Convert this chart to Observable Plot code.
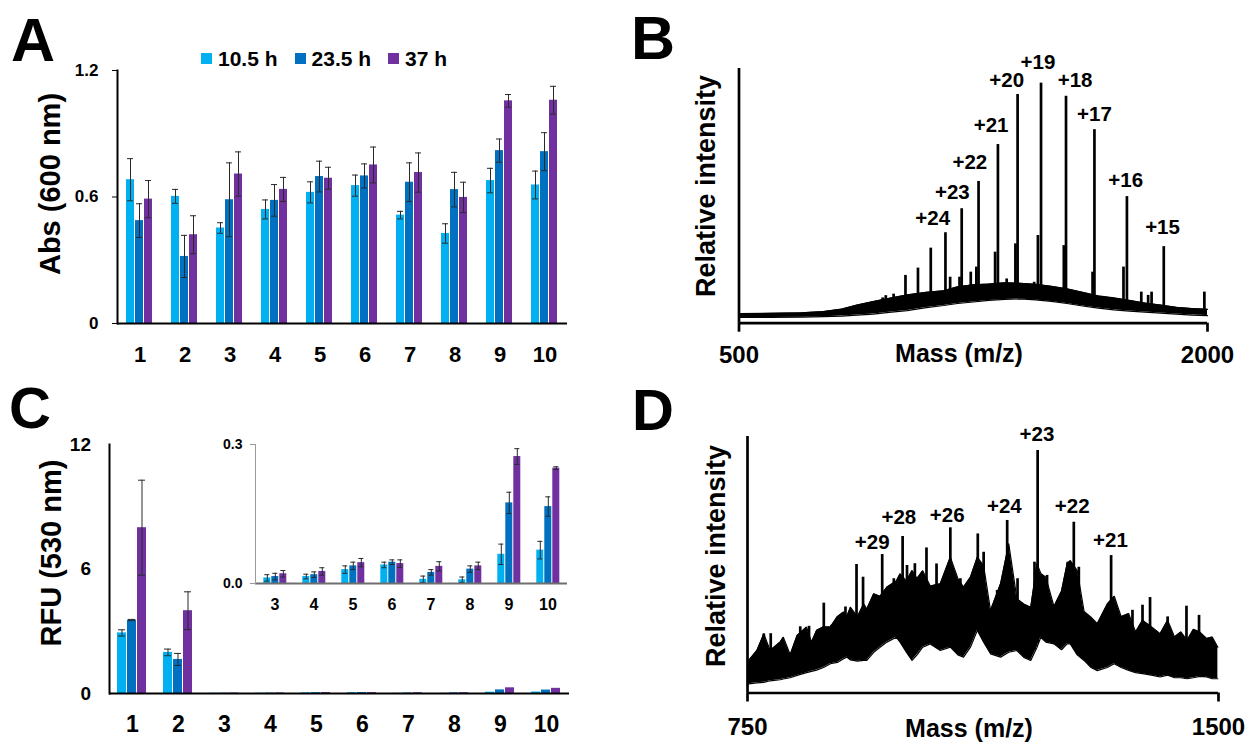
<!DOCTYPE html>
<html><head><meta charset="utf-8">
<script src="https://cdn.jsdelivr.net/npm/d3@7"></script>
<script src="https://cdn.jsdelivr.net/npm/@observablehq/plot@0.6"></script>
<style>
body{margin:0;background:#fff;width:1252px;height:746px;overflow:hidden;position:relative;font-family:"Liberation Sans",Arial,sans-serif;font-weight:bold;color:#000}
.box{position:absolute}
.letter{position:absolute;line-height:1;font-weight:bold;white-space:nowrap}
.rot{position:absolute;transform:translate(-50%,-50%) rotate(-90deg);white-space:nowrap;line-height:1}
.ctr{position:absolute;transform:translate(-50%,0);white-space:nowrap;line-height:1}
</style></head><body>
<script>
// ---------- data ----------
const series = ["10.5 h", "23.5 h", "37 h"];
const seriesColors = ["#00B0F0", "#0070C0", "#7030A0"];

// Panel A: Abs (600 nm)
const catsA = ["1","2","3","4","5","6","7","8","9","10"];
const absLight  = [0.682, 0.603, 0.453, 0.541, 0.622, 0.654, 0.514, 0.427, 0.678, 0.657];
const absDark   = [0.488, 0.318, 0.587, 0.584, 0.697, 0.700, 0.670, 0.635, 0.820, 0.815];
const absPurple = [0.590, 0.421, 0.709, 0.636, 0.689, 0.752, 0.716, 0.598, 1.056, 1.059];
const absLightErr  = [0.100, 0.033, 0.025, 0.045, 0.050, 0.050, 0.018, 0.046, 0.058, 0.066];
const absDarkErr   = [0.080, 0.100, 0.175, 0.075, 0.073, 0.057, 0.092, 0.082, 0.055, 0.090];
const absPurpleErr = [0.088, 0.090, 0.105, 0.057, 0.052, 0.085, 0.093, 0.072, 0.030, 0.066];
const absTicks = [0, 0.6, 1.2];

// Panel C: RFU (530 nm)
const catsC = ["1","2","3","4","5","6","7","8","9","10"];
const rfuLight  = [2.92, 1.98, 0.012, 0.015, 0.030, 0.040, 0.009, 0.008, 0.063, 0.072];
const rfuDark   = [3.54, 1.64, 0.015, 0.019, 0.038, 0.046, 0.024, 0.031, 0.174, 0.166];
const rfuPurple = [7.99, 3.99, 0.021, 0.026, 0.045, 0.043, 0.037, 0.038, 0.274, 0.249];
const rfuLightErr  = [0.15, 0.16, 0.007, 0.005, 0.008, 0.006, 0.007, 0.006, 0.022, 0.019];
const rfuDarkErr   = [0.03, 0.29, 0.007, 0.006, 0.008, 0.005, 0.006, 0.007, 0.023, 0.021];
const rfuPurpleErr = [2.29, 0.91, 0.007, 0.008, 0.009, 0.008, 0.010, 0.008, 0.017, 0.003];
const rfuTicks = [0, 6, 12];
const insetCats = ["3","4","5","6","7","8","9","10"];
const insetTicks = [0, 0.3];

// Panel B: mass spectrum 500-2000
const bMz = [500,600,700,771,830,878,930,980,1038,1100,1155,1200,1250,1300,1350,1400,1450,1500,1550,1600,1650,1700,1750,1800,1850,1900,1950,2000];
const bLo = [2.3,2.3,2.4,2.6,2.8,3.2,3.6,4.3,5.0,6.2,7.0,7.8,8.4,9.0,9.4,9.6,9.2,8.6,7.8,6.8,6.0,5.3,4.8,4.4,4.0,3.6,3.2,3.0];
const bHi = [3.8,3.9,4.1,4.6,5.6,7.2,8.6,9.8,11.2,12.2,12.8,14.4,15.2,15.5,16.0,15.8,15.4,14.6,13.6,12.2,10.8,10.0,9.0,8.0,7.2,6.3,5.8,5.5];
const bPeakMz = [960,970,995,1033,1073,1114,1161,1176,1206,1213,1242,1260,1267,1320,1329,1357,1385,1392,1445,1457,1467,1540,1547,1632,1638,1731,1742,1788,1810,1821,1860,1990];
const bPeakH  = [10,10.9,11.5,18.9,21.8,29.7,35.8,18.2,18.2,45.3,20.2,22.2,56.1,28.1,70.7,17.5,31.4,90.5,16.2,34.7,95.0,30.7,89.8,20.2,76.6,22.2,50.1,12.3,11,12.3,30.3,12.3];
const bLabelText = ["+24","+23","+22","+21","+20","+19","+18","+17","+16","+15"];
const bLabelMz   = [1120,1183,1239,1307,1357,1457,1576,1638,1738,1856];
const bLabelV    = [41.3,51.8,63.7,78.2,96.0,103.3,96.0,82.8,56.5,38.0];
const bTicks = [500, 2000];

// Panel D: mass spectrum 750-1500
const dMz = [750,752,765,776,786,802,807,818,829,844,852,860,871,882,893,903,908,914,925,935,940,951,961,972,987,993,1003,1012,1020,1029,1041,1057,1073,1085,1094,1105,1116,1126,1137,1153,1166,1179,1190,1201,1211,1217,1225,1238,1250,1259,1264,1275,1286,1297,1307,1323,1334,1345,1357,1368,1379,1393,1407,1419,1430,1440,1450,1460,1470,1481,1490,1499];
const dLo = [3.0,3.6,4.0,4.2,4.8,5.2,5.5,6.0,6.9,8.0,8.5,9.0,10,11.5,12,13.5,14.1,13,12.5,12.8,12.8,16,18,20,21.9,20,16,12.8,15,18,19.3,16.7,18,15,14.1,18,24.6,20,15.4,14.1,16,16.7,14,12.8,18,21.9,20,19.3,17,19.3,19.3,15,12.8,10,8.8,10,11.5,10,8.9,8,7.6,7,6.3,7,6,6,5.6,6,6.5,6.3,5.6,5.6];
const dHi = [10,12.8,16.7,23.2,16.7,20,21.9,15,22.6,25.9,20,24.6,26,25.9,30,31.8,30,33.7,30,35,33,39,38,41.6,44,46.8,44,48.1,45,48,42,42.9,53.4,45,41.6,45.5,53.4,50,32.4,42.9,58.6,37,35,33.7,50.8,47,45.5,34,40,50.8,52,48.1,32,29.8,27.2,35,38,30,31.2,24,28.6,26,23.3,28.6,22,24,20.7,25,24,21.4,22,18];
const dPeakMz = [776,787,834,848,871.5,884,906,923.6,934,964.5,983,997,1004,1016.5,1035,1051,1073,1089,1116.7,1126,1147.6,1163.5,1180,1207,1212,1227,1260,1269.6,1277.6,1329,1363,1379,1391,1419,1449,1469];
const dPeakH  = [23.2,23.3,26,26.2,35.3,26.6,33.8,50.5,45.5,54.4,44.9,61.5,50.1,50.8,57.0,50.7,64.9,44.9,62.5,55.3,40.3,67.8,44.9,51.4,95.3,46.2,51.4,67.1,49.4,54.0,32.5,34.5,37.5,29.9,34.1,30.5];
const dLabelText = ["+29","+28","+26","+24","+23","+22","+21"];
const dLabelMz   = [948.6,991,1068,1159,1211,1267,1328];
const dLabelV    = [59.3,68.8,69.7,73.3,101.5,73.3,59.9];
const dTicks = [750, 1500];

// ---------- helpers ----------
const FONT = '"Liberation Sans", Arial, sans-serif';
function groupTable(cats, vals, errs) {
  const out = [];
  cats.forEach((c, i) => series.forEach((s, j) => out.push({cat: c, series: s, v: vals[j][i], e: errs[j][i]})));
  return out;
}
const zip = (keys, arrs) => arrs[0].map((_, i) => Object.fromEntries(keys.map((k, j) => [k, arrs[j][i]])));
function place(node, left, top, w, h) {
  const d = document.createElement("div");
  d.className = "box";
  Object.assign(d.style, {left: left + "px", top: top + "px", width: w + "px", height: h + "px"});
  d.appendChild(node);
  document.body.appendChild(d);
}
function html(cls, text, css) {
  const d = document.createElement("div");
  d.className = cls; d.textContent = text;
  Object.assign(d.style, css);
  document.body.appendChild(d);
  return d;
}
const errMarks = (data, o) => [
  Plot.ruleX(data, {fx: "cat", x: "series", y1: d => d.v - d.e, y2: d => d.v + d.e, stroke: "#2a2a2a", strokeWidth: 1}),
  Plot.tickY(data, {fx: "cat", x: "series", y: d => d.v + d.e, stroke: "#2a2a2a", strokeWidth: 1, insetLeft: o, insetRight: o}),
  Plot.tickY(data, {fx: "cat", x: "series", y: d => d.v - d.e, stroke: "#2a2a2a", strokeWidth: 1, insetLeft: o, insetRight: o})
];

// ---------- Panel A ----------
const dataA = groupTable(catsA, [absLight, absDark, absPurple], [absLightErr, absDarkErr, absPurpleErr]);
const plotA = Plot.plot({
  width: 600, height: 380, marginLeft: 113, marginRight: 30, marginTop: 70, marginBottom: 57,
  style: {fontFamily: FONT, fontWeight: "bold", background: "transparent", color: "black"},
  fx: {domain: catsA, padding: 0},
  x: {domain: series, paddingInner: 0.08, paddingOuter: 0.98, axis: null},
  y: {domain: [0, 1.2]},
  color: {domain: series, range: seriesColors},
  marks: [
    Plot.barY(dataA, {fx: "cat", x: "series", y: "v", fill: "series"}),
    ...errMarks(dataA, 1),
    Plot.ruleY([0], {strokeWidth: 2}),
    Plot.frame({anchor: "left", facetAnchor: "left", strokeWidth: 2}),
    Plot.axisY({ticks: absTicks, tickFormat: d => d === 0 ? "0" : d.toFixed(1), tickSize: 5, tickPadding: 14, fontSize: 17, fontWeight: "bold", label: null}),
    Plot.axisFx({anchor: "bottom", tickSize: 0, tickPadding: 23, fontSize: 22, fontWeight: "bold", label: null})
  ]
});
place(plotA, 0, 0, 600, 380);

// ---------- Panel C ----------
const dataC = groupTable(catsC, [rfuLight, rfuDark, rfuPurple], [rfuLightErr, rfuDarkErr, rfuPurpleErr]);
const dataCErr = dataC.filter(d => !insetCats.includes(d.cat)); // tiny bars' error bars are shown in the inset
const plotC = Plot.plot({
  width: 600, height: 366, marginLeft: 108, marginRight: 30.5, marginTop: 64, marginBottom: 53,
  style: {fontFamily: FONT, fontWeight: "bold", background: "transparent", color: "black"},
  fx: {domain: catsC, padding: 0},
  x: {domain: series, paddingInner: 0.08, paddingOuter: 0.83, axis: null},
  y: {domain: [0, 12]},
  color: {domain: series, range: seriesColors},
  marks: [
    Plot.barY(dataC, {fx: "cat", x: "series", y: "v", fill: "series"}),
    ...errMarks(dataCErr, 1),
    Plot.ruleY([0], {strokeWidth: 2}),
    Plot.frame({anchor: "left", facetAnchor: "left", strokeWidth: 2}),
    Plot.axisY({ticks: rfuTicks, tickFormat: d => String(d), tickSize: 0, tickPadding: 18.5, fontSize: 19, fontWeight: "bold", label: null}),
    Plot.axisFx({anchor: "bottom", tickSize: 0, tickPadding: 22, fontSize: 23, fontWeight: "bold", label: null})
  ]
});
place(plotC, 0, 380, 600, 366);

// ---------- Inset of C ----------
const dataI = dataC.filter(d => insetCats.includes(d.cat));
const plotI = Plot.plot({
  width: 380, height: 200, marginLeft: 52.7, marginRight: 10.5, marginTop: 24, marginBottom: 37,
  style: {fontFamily: FONT, fontWeight: "bold", background: "transparent", color: "black"},
  fx: {domain: insetCats, padding: 0},
  x: {domain: series, paddingInner: 0.1, paddingOuter: 0.85, axis: null},
  y: {domain: [0, 0.3]},
  color: {domain: series, range: seriesColors},
  marks: [
    Plot.barY(dataI, {fx: "cat", x: "series", y: "v", fill: "series"}),
    ...errMarks(dataI, 1),
    Plot.ruleY([0], {stroke: "#6f6f6f", strokeWidth: 2}),
    Plot.frame({anchor: "left", facetAnchor: "left", stroke: "#9a9a9a", strokeWidth: 1}),
    Plot.axisY({ticks: insetTicks, tickFormat: d => d.toFixed(1), tickSize: 5, tickPadding: 8, stroke: "#9a9a9a", fill: "black", fontSize: 14, fontWeight: "bold", label: null}),
    Plot.axisFx({anchor: "bottom", tickSize: 0, tickPadding: 15, fontSize: 16, fontWeight: "bold", label: null})
  ]
});
place(plotI, 200, 420, 380, 200);

// ---------- spectra ----------
function spectrum(o) {
  const band = zip(["mz", "lo", "hi"], [o.mz, o.lo, o.hi]);
  const lowerAt = mz => {               // lower edge of the noise band under a peak
    const i = Math.max(1, Math.min(o.mz.length - 1, d3.bisectLeft(o.mz, mz)));
    const t = (mz - o.mz[i - 1]) / (o.mz[i] - o.mz[i - 1]);
    return o.lo[i - 1] + t * (o.lo[i] - o.lo[i - 1]);
  };
  const peaks = zip(["mz", "h"], [o.peakMz, o.peakH]);
  const labels = zip(["t", "mz", "v"], [o.labelText, o.labelMz, o.labelV]);
  return Plot.plot({
    width: o.width, height: o.height, marginLeft: o.ml, marginRight: o.mr, marginTop: o.mt, marginBottom: o.mb,
    style: {fontFamily: FONT, fontWeight: "bold", background: "transparent", color: "black", overflow: "visible"},
    x: {domain: o.domain}, y: {domain: [0, 100], axis: null},
    marks: [
      Plot.areaY(band, {x: "mz", y1: "lo", y2: "hi", fill: "black"}),
      Plot.line(band, {x: "mz", y: "lo", stroke: "black", strokeWidth: 1.2}),
      Plot.line(band, {x: "mz", y: "hi", stroke: "black", strokeWidth: 1.2}),
      Plot.ruleX(peaks, {x: "mz", y1: d => lowerAt(d.mz) + 1, y2: "h", stroke: "black", strokeWidth: 2.7}),
      Plot.text(labels, {x: "mz", y: "v", text: "t", fontSize: 20.5, fontWeight: "bold", fill: "black"}),
      Plot.ruleY([0], {strokeWidth: 2.7}),
      Plot.ruleX([o.domain[0]], {y1: 0, y2: 100.8, strokeWidth: 2.7}),
      Plot.axisX({ticks: o.ticks, tickFormat: d => String(d), tickSize: 9, tickPadding: o.tp, strokeWidth: 2.7, fontSize: 24, fontWeight: "bold", label: null})
    ]
  });
}
const plotB = spectrum({width: 612, height: 380, ml: 98.5, mr: 45, mt: 70, mb: 57.3, domain: [500, 2000], ticks: bTicks, tp: 14,
  mz: bMz, lo: bLo, hi: bHi, peakMz: bPeakMz, peakH: bPeakH, labelText: bLabelText, labelMz: bLabelMz, labelV: bLabelV});
place(plotB, 640, 0, 612, 380);
const plotD = spectrum({width: 612, height: 366, ml: 107, mr: 34, mt: 58, mb: 53.5, domain: [750, 1500], ticks: dTicks, tp: 15.5,
  mz: dMz, lo: dLo, hi: dHi, peakMz: dPeakMz, peakH: dPeakH, labelText: dLabelText, labelMz: dLabelMz, labelV: dLabelV});
place(plotD, 640, 380, 612, 366);

// ---------- text: panel letters, axis titles, legend ----------
html("letter", "A", {left: "11px", top: "10px", fontSize: "61px"});
html("letter", "B", {left: "631px", top: "8px", fontSize: "61px"});
html("letter", "C", {left: "9px", top: "379px", fontSize: "58px"});
html("letter", "D", {left: "632px", top: "381px", fontSize: "58px"});

html("rot", "Abs (600 nm)", {left: "50px", top: "184px", fontSize: "29px"});
html("rot", "RFU (530 nm)", {left: "51px", top: "553px", fontSize: "29px"});
html("rot", "Relative intensity", {left: "706px", top: "186px", fontSize: "27px"});
html("rot", "Relative intensity", {left: "716px", top: "556px", fontSize: "27px"});
html("ctr", "Mass (m/z)", {left: "959px", top: "341px", fontSize: "25px"});
html("ctr", "Mass (m/z)", {left: "969px", top: "716px", fontSize: "25px"});

const legend = document.createElement("div");
Object.assign(legend.style, {position: "absolute", left: "201px", top: "48px", display: "flex", gap: "17px", alignItems: "center"});
series.forEach((s, i) => {
  const item = document.createElement("div");
  Object.assign(item.style, {display: "flex", alignItems: "center", gap: "6px"});
  const sw = document.createElement("div");
  Object.assign(sw.style, {width: "11px", height: "11px", background: seriesColors[i]});
  const t = document.createElement("div");
  Object.assign(t.style, {fontSize: "21px", lineHeight: "1", fontWeight: "bold", whiteSpace: "nowrap"});
  t.textContent = s;
  item.append(sw, t);
  legend.appendChild(item);
});
document.body.appendChild(legend);
</script>
</body></html>
